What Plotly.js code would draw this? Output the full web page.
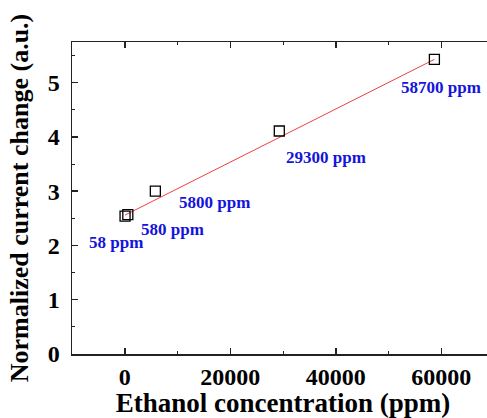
<!DOCTYPE html>
<html>
<head>
<meta charset="utf-8">
<script src="https://cdn.plot.ly/plotly-3.0.1.min.js"></script>
<style>
html, body { margin: 0; padding: 0; overflow: hidden; background: #fff; }
#chart { width: 494px; height: 418px; }
</style>
</head>
<body>
<div id="chart"></div>
<script>
// Data
const concentrations = [58, 580, 5800, 29300, 58700];
const currentChange = [2.54, 2.57, 3.00, 4.11, 5.43];
const pointLabels = ["58 ppm", "580 ppm", "5800 ppm", "29300 ppm", "58700 ppm"];
const labelX = [-1700, 9100, 17100, 38200, 60000];
const labelY = [2.06, 2.30, 2.80, 3.63, 4.92];
const fitX = [58, 58700];
const fitY = [2.56, 5.43];
const xTickVals = [0, 20000, 40000, 60000];
const xTickText = ["0", "20000", "40000", "60000"];
const yTickVals = [0, 1, 2, 3, 4, 5];
const yTickText = ["0", "1", "2", "3", "4", "5"];

const serif = "'Liberation Serif', 'Times New Roman', Times, serif";
const bold = s => "<b>" + s + "</b>";

const traces = [
  {
    x: fitX, y: fitY, type: "scatter", mode: "lines",
    line: { color: "#f04040", width: 1 },
    hoverinfo: "skip", showlegend: false
  },
  {
    x: concentrations, y: currentChange, type: "scatter", mode: "markers",
    marker: { symbol: "square-open", size: 10, color: "#000", line: { width: 1.3, color: "#000" } },
    showlegend: false
  }
];

const annotations = pointLabels.map((t, i) => ({
  x: labelX[i], y: labelY[i], xref: "x", yref: "y",
  text: bold(t), showarrow: false,
  font: { family: serif, size: 17, color: "#1414dc" }
}));

const axisCommon = {
  showline: true, linecolor: "#222", linewidth: 1.5,
  mirror: "ticks", ticks: "inside", ticklen: 6, tickwidth: 1.5, tickcolor: "#222",
  showgrid: false, zeroline: false,
  tickfont: { family: serif, size: 24, color: "#000" }
};

const layout = {
  width: 494, height: 418,
  margin: { l: 72, r: 0, t: 42, b: 64 },
  paper_bgcolor: "#fff", plot_bgcolor: "#fff",
  showlegend: false,
  xaxis: Object.assign({}, axisCommon, {
    range: [-10000, 70000], tickmode: "array", tickvals: xTickVals,
    ticktext: xTickText.map(bold),
    minor: { dtick: 10000, tick0: 0, ticks: "inside", ticklen: 3, tickwidth: 1, tickcolor: "#222" },
    ticklabelstandoff: 1,
    title: { text: bold("Ethanol concentration (ppm)"), font: { family: serif, size: 27, color: "#000" }, standoff: 0 }
  }),
  yaxis: Object.assign({}, axisCommon, {
    range: [0, 5.75], tickmode: "array", tickvals: yTickVals,
    ticktext: yTickText.map(bold),
    minor: { dtick: 0.5, tick0: 0, ticks: "inside", ticklen: 3, tickwidth: 1, tickcolor: "#222" },
    ticklabelstandoff: 6,
    title: { text: bold("Normalized current change (a.u.)"), font: { family: serif, size: 26, color: "#000" }, standoff: 11 }
  }),
  annotations: annotations
};

Plotly.newPlot("chart", traces, layout, { displayModeBar: false, staticPlot: true });
</script>
</body>
</html>
